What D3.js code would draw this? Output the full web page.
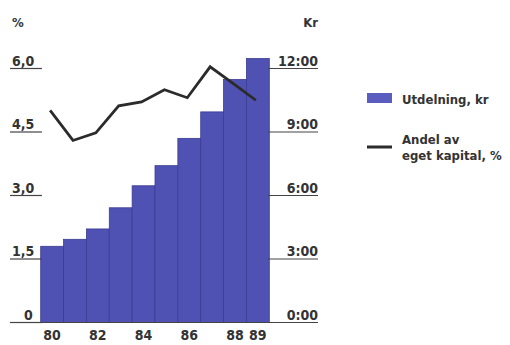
<!DOCTYPE html>
<html>
<head>
<meta charset="utf-8">
<script src="https://cdn.jsdelivr.net/npm/d3@7"></script>
<style>
  body { margin: 0; background: #fff; }
  text { font-family: "DejaVu Sans Condensed", "Liberation Sans Narrow", sans-serif; font-weight: bold; fill: #333; }
</style>
</head>
<body>
<div id="chart"></div>
<script>
// data
const years = [1980, 1981, 1982, 1983, 1984, 1985, 1986, 1987, 1988, 1989];
const utdelning = [3.6, 3.93, 4.42, 5.42, 6.46, 7.41, 8.7, 9.95, 11.48, 12.47]; // kr
const andel = [5.01, 4.3, 4.48, 5.12, 5.21, 5.5, 5.31, 6.04, 5.65, 5.25];       // %
const leftTicks = [0, 1.5, 3.0, 4.5, 6.0];
const rightTicks = [0, 3, 6, 9, 12];
const xLabelYears = [1980, 1982, 1984, 1986, 1988, 1989];

const W = 510, H = 345;
const svg = d3.select("#chart").append("svg").attr("width", W).attr("height", H);

// skalen
const x = d3.scaleBand().domain(years).range([40.7, 269.3]).padding(0);
const yKr = d3.scaleLinear().domain([0, 12]).range([322.5, 68.5]);
const yPct = d3.scaleLinear().domain([0, 6]).range([322.5, 68.5]);

const fmtPct = d => d === 0 ? "0" : d.toFixed(1).replace(".", ",");
const fmtKr = d => d + ":00";

// staplar
svg.append("g").selectAll("rect")
  .data(years.map((yr, i) => ({ yr, v: utdelning[i] })))
  .join("rect")
  .attr("x", d => x(d.yr))
  .attr("y", d => yKr(d.v))
  .attr("width", x.bandwidth())
  .attr("height", d => yKr(0) - yKr(d.v))
  .attr("fill", "#5052b3")
  .attr("stroke", "#3a3c92")
  .attr("stroke-width", 0.8);

// vänster axel
const left = svg.append("g");
left.selectAll("line").data(leftTicks).join("line")
  .attr("x1", 10).attr("x2", 42)
  .attr("y1", d => yPct(d)).attr("y2", d => yPct(d))
  .attr("stroke", "#444").attr("stroke-width", 1.2);
left.selectAll("text").data(leftTicks).join("text")
  .attr("x", d => d === 0 ? 24 : 12)
  .attr("y", d => yPct(d) - 3)
  .style("font-size", "14px")
  .text(fmtPct);

// höger axel
const right = svg.append("g");
right.selectAll("line").data(rightTicks).join("line")
  .attr("x1", 268).attr("x2", 318)
  .attr("y1", d => yKr(d)).attr("y2", d => yKr(d))
  .attr("stroke", "#444").attr("stroke-width", 1.2);
right.selectAll("text").data(rightTicks).join("text")
  .attr("x", 318)
  .attr("y", d => yKr(d) - 3)
  .attr("text-anchor", "end")
  .style("font-size", "14px")
  .text(fmtKr);

// baslinje
svg.append("line")
  .attr("x1", 10).attr("x2", 318)
  .attr("y1", yKr(0)).attr("y2", yKr(0))
  .attr("stroke", "#444").attr("stroke-width", 1.2);

// enheter
svg.append("text").attr("x", 12).attr("y", 27).style("font-size", "13px").text("%");
svg.append("text").attr("x", 318).attr("y", 27).attr("text-anchor", "end").style("font-size", "13px").text("Kr");

// x-etiketter
svg.append("g").selectAll("text").data(xLabelYears).join("text")
  .attr("x", d => x(d) + x.bandwidth() / 2)
  .attr("y", 340)
  .attr("text-anchor", "middle")
  .style("font-size", "14px")
  .text(d => String(d).slice(2));

// linje
const line = d3.line()
  .x((d, i) => x(years[i]) + x.bandwidth() / 2 - 2)
  .y(d => yPct(d));
svg.append("path")
  .datum(andel)
  .attr("d", line)
  .attr("fill", "none")
  .attr("stroke", "#2b2b2b")
  .attr("stroke-width", 2.8)
  .attr("stroke-linejoin", "miter");

// legend
const lg = svg.append("g");
lg.append("rect").attr("x", 367).attr("y", 93).attr("width", 25).attr("height", 10).attr("fill", "#5a5cc0");
lg.append("text").attr("x", 402).attr("y", 104).style("font-size", "13px").text("Utdelning, kr");
lg.append("line").attr("x1", 367).attr("x2", 392).attr("y1", 147).attr("y2", 147)
  .attr("stroke", "#2b2b2b").attr("stroke-width", 3);
lg.append("text").attr("x", 402).attr("y", 144).style("font-size", "13px").text("Andel av");
lg.append("text").attr("x", 402).attr("y", 160).style("font-size", "13px").text("eget kapital, %");
</script>
</body>
</html>
